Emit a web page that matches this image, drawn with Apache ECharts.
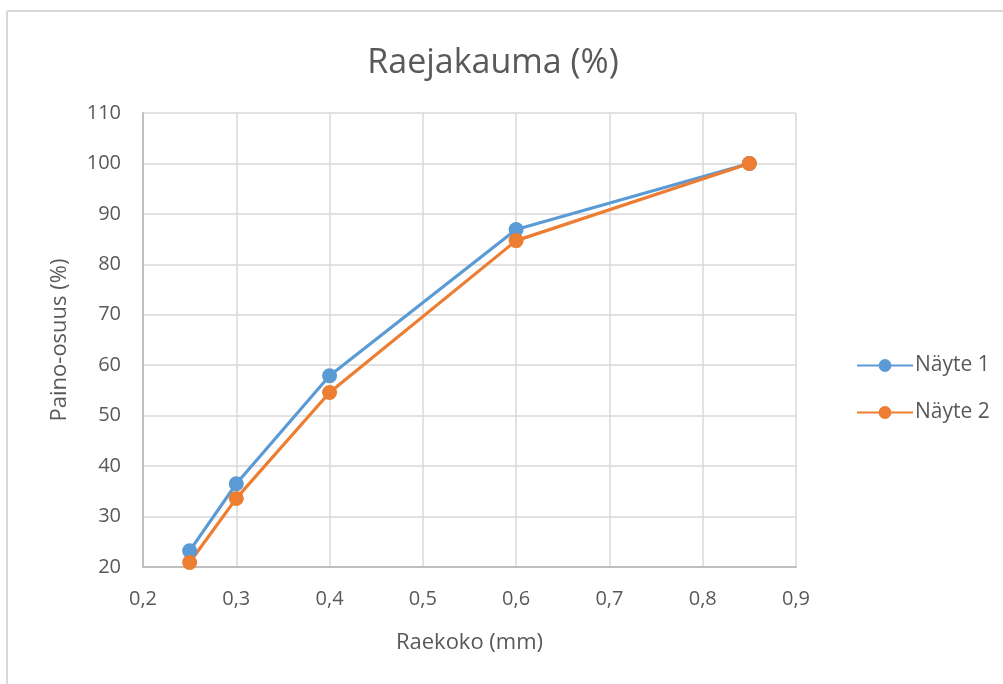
<!DOCTYPE html>
<html>
<head>
<meta charset="utf-8">
<script src="https://cdn.jsdelivr.net/npm/echarts@6/dist/echarts.min.js"></script>
<style>
  html, body { margin: 0; padding: 0; background: #fff; }
  #chart { width: 1003px; height: 684px; }
</style>
</head>
<body>
<div id="chart"></div>
<script>
// Grain size distribution of two samples
const sizes = [0.25, 0.3, 0.4, 0.6, 0.85];
const sample1 = [23.2, 36.5, 57.9, 86.9, 100];
const sample2 = [20.9, 33.6, 54.6, 84.7, 100];
const seriesNames = ['Näyte 1', 'Näyte 2'];

const textColor = '#595959';
const fontFamily = '"Open Sans", "Noto Sans", sans-serif';

const chart = echarts.init(document.getElementById('chart'));

function pairs(xs, ys) {
  return xs.map((x, i) => [x, ys[i]]);
}

chart.setOption({
  animation: false,
  backgroundColor: '#ffffff',
  textStyle: { fontFamily: fontFamily },
  title: {
    text: 'Raejakauma (%)',
    left: 488,
    textAlign: 'center',
    top: 41,
    textStyle: { fontSize: 34, fontWeight: 'normal', color: textColor, fontFamily: fontFamily }
  },
  graphic: [
    { type: 'line', shape: { x1: 7, y1: 11, x2: 1003, y2: 11 }, style: { stroke: '#d9d9d9', lineWidth: 2 } },
    { type: 'line', shape: { x1: 7, y1: 11, x2: 7, y2: 684 }, style: { stroke: '#d9d9d9', lineWidth: 2 } }
  ],
  grid: { left: 143, right: 207, top: 113, bottom: 117 },
  legend: {
    orient: 'vertical',
    left: 851,
    top: 350,
    itemWidth: 56,
    itemHeight: 16,
    itemGap: 26,
    textStyle: { fontSize: 21, color: textColor, fontFamily: fontFamily, padding: [0, 0, 0, -3] },
    data: seriesNames
  },
  xAxis: {
    type: 'value',
    min: 0.2,
    max: 0.9,
    interval: 0.1,
    name: 'Raekoko (mm)',
    nameLocation: 'middle',
    nameGap: 65,
    nameTextStyle: { fontSize: 22, color: textColor },
    axisLine: { show: true, lineStyle: { color: '#bfbfbf', width: 2 } },
    axisTick: { show: false },
    splitLine: { show: true, lineStyle: { color: '#d9d9d9', width: 1.5 } },
    axisLabel: {
      fontSize: 20,
      color: textColor,
      margin: 22,
      formatter: v => v.toFixed(1).replace('.', ',')
    }
  },
  yAxis: {
    type: 'value',
    min: 20,
    max: 110,
    interval: 10,
    name: 'Paino-osuus (%)',
    nameLocation: 'middle',
    nameGap: 72,
    nameTextStyle: { fontSize: 22, color: textColor },
    axisLine: { show: true, lineStyle: { color: '#bfbfbf', width: 2 } },
    axisTick: { show: false },
    splitLine: { show: true, lineStyle: { color: '#d9d9d9', width: 1.5 } },
    axisLabel: { fontSize: 20, color: textColor, margin: 22 }
  },
  series: [
    {
      name: seriesNames[0],
      type: 'line',
      data: pairs(sizes, sample1),
      symbol: 'circle',
      symbolSize: 15,
      lineStyle: { width: 3.2, color: '#5b9bd5' },
      itemStyle: { color: '#5b9bd5' }
    },
    {
      name: seriesNames[1],
      type: 'line',
      data: pairs(sizes, sample2),
      symbol: 'circle',
      symbolSize: 15,
      lineStyle: { width: 3.2, color: '#ed7d31' },
      itemStyle: { color: '#ed7d31' }
    }
  ]
});
</script>
</body>
</html>
